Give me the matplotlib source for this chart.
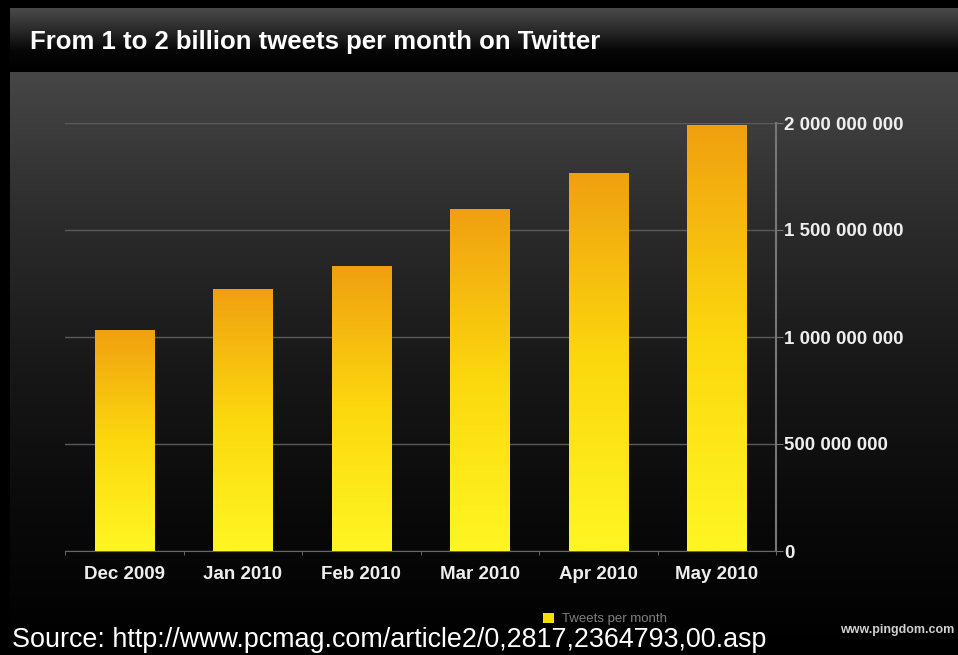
import numpy as np
import matplotlib.pyplot as plt
from matplotlib.colors import LinearSegmentedColormap
from matplotlib.patches import Patch

# Data
months = ['Dec 2009', 'Jan 2010', 'Feb 2010', 'Mar 2010', 'Apr 2010', 'May 2010']
tweets = [1035000000, 1225000000, 1330000000, 1600000000, 1765000000, 1990000000]
y_ticks = [0, 500000000, 1000000000, 1500000000, 2000000000]

W, H = 958, 655
fig = plt.figure(figsize=(W / 100, H / 100), dpi=100)
fig.patch.set_facecolor('black')

# Background panel (pixel coordinates)
bg = fig.add_axes([0, 0, 1, 1])
bg.set_xlim(0, W)
bg.set_ylim(H, 0)
bg.axis('off')
bg.set_facecolor('black')

head = np.linspace(0, 1, 100).reshape(-1, 1)
head_cmap = LinearSegmentedColormap.from_list('head', ['#4a4a4a', '#2a2a2a', '#060606', '#000000'])
bg.imshow(head, extent=[10, W, 72, 8], cmap=head_cmap, aspect='auto', interpolation='bilinear')
body = np.linspace(0, 1, 200).reshape(-1, 1)
body_cmap = LinearSegmentedColormap.from_list('body', ['#464646', '#2c2c2c', '#181818', '#0a0a0a', '#000000'])
bg.imshow(body, extent=[10, W, H, 72], cmap=body_cmap, aspect='auto', interpolation='bilinear')
bg.set_xlim(0, W)
bg.set_ylim(H, 0)

bg.text(30, 49, 'From 1 to 2 billion tweets per month on Twitter', color='white',
        fontsize=18.5, fontweight='bold', family='Liberation Sans', va='baseline')

# Main chart
ax = fig.add_axes([65 / W, 1 - 551 / H, (776 - 65) / W, (551 - 123) / H])
ax.patch.set_alpha(0)

x = np.arange(len(months))
bars = ax.bar(x, tweets, width=0.5, color='#f5dc00', zorder=3, label='Tweets per month')

# gradient fill for each bar
grad = np.linspace(0, 1, 256).reshape(-1, 1)
bar_cmap = LinearSegmentedColormap.from_list('bar', ['#fff624', '#fcd80e', '#f0a010'])
for b in bars:
    b.set_facecolor('none')
    bx, bw, bh = b.get_x(), b.get_width(), b.get_height()
    im = ax.imshow(grad, extent=[bx, bx + bw, 0, bh], origin='lower', cmap=bar_cmap,
                   aspect='auto', zorder=3, interpolation='bilinear')
    im.set_clip_path(b)

ax.set_xlim(-0.5, len(months) - 0.5)
ax.set_ylim(0, 2000000000)

ax.set_yticks(y_ticks)
ax.set_yticklabels([f'{v:,}'.replace(',', ' ') for v in y_ticks])
ax.yaxis.tick_right()
ax.grid(axis='y', color='#5a5a5a', linewidth=1, zorder=1)
ax.set_axisbelow(True)

ax.set_xticks(x)
ax.set_xticklabels(months)
ax.set_xticks(np.arange(-0.5, len(months)), minor=True)
ax.tick_params(axis='x', which='major', length=0, pad=11)
ax.tick_params(axis='x', which='minor', length=3, color='#777777')
ax.tick_params(axis='y', length=5, color='#777777', pad=1)
for lab in ax.get_xticklabels() + ax.get_yticklabels():
    lab.set_color('#eeeeee')
    lab.set_fontweight('bold')
    lab.set_fontsize(13.5)
    lab.set_family('Liberation Sans')

for side in ['top', 'left']:
    ax.spines[side].set_visible(False)
ax.spines['right'].set_color('#777777')
ax.spines['right'].set_linewidth(1.5)
ax.spines['bottom'].set_color('#666666')

ax.legend(handles=[Patch(facecolor='#f5e000', label='Tweets per month')],
          loc='center', bbox_to_anchor=(605 / W, 1 - 619 / H), bbox_transform=fig.transFigure,
          frameon=False, handlelength=0.8, handleheight=0.8, handletextpad=0.6,
          prop={'family': 'Liberation Sans', 'size': 9.5}, labelcolor='#808080')

fig.text(840 / W, 1 - 633 / H, 'www.pingdom.com', color='#d0d0d0', fontsize=9,
         fontweight='bold', family='Liberation Sans', va='baseline')
fig.text(12 / W, 1 - 647 / H, 'Source: http://www.pcmag.com/article2/0,2817,2364793,00.asp',
         color='white', fontsize=19.4, family='Liberation Sans', va='baseline')

fig.savefig('out.png', dpi=100, facecolor=fig.get_facecolor())
